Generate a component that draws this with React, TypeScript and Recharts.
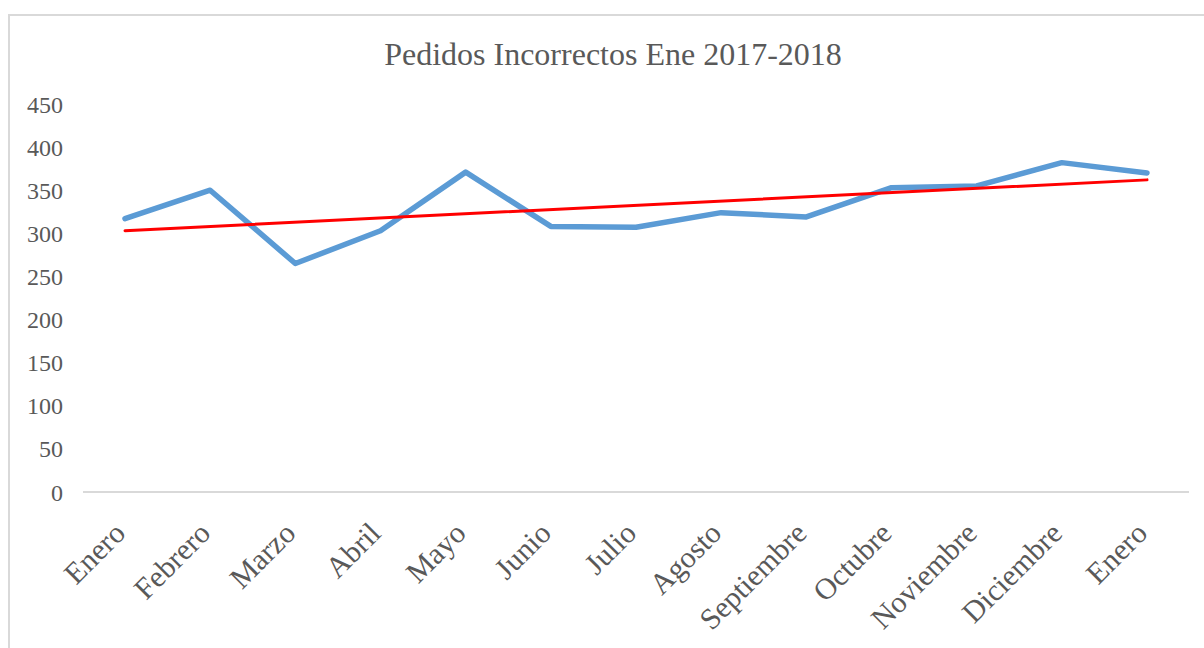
import React from "react";
import { LineChart, Line, XAxis, YAxis } from "recharts";

const months = [
  "Enero",
  "Febrero",
  "Marzo",
  "Abril",
  "Mayo",
  "Junio",
  "Julio",
  "Agosto",
  "Septiembre",
  "Octubre",
  "Noviembre",
  "Diciembre",
  "Enero",
];
const pedidos = [317, 350, 265, 303, 371, 308, 307, 324, 319, 353, 355, 382, 370];
// linear trend, only the two ends are stored; the line joins them
const trendStart = 303;
const trendEnd = 362;
const yTicks = [0, 50, 100, 150, 200, 250, 300, 350, 400, 450];

const data = months.map((m, i) => ({
  key: `${m}-${i}`,
  mes: m,
  pedidos: pedidos[i],
  tendencia: i === 0 ? trendStart : i === months.length - 1 ? trendEnd : null,
}));

const FONT = '"Liberation Serif", "Times New Roman", serif';
const GREY = "#595959";

function MonthTick({ x, y, payload }: any) {
  const label = data[payload.index]?.mes ?? payload.value;
  const ax = x + 2;
  const ay = y + 35;
  return (
    <text
      x={ax}
      y={ay}
      transform={`rotate(-45, ${ax}, ${ay})`}
      textAnchor="end"
      fontFamily={FONT}
      fontSize={30}
      fill={GREY}
    >
      {label}
    </text>
  );
}

export default function App() {
  return (
    <div
      style={{
        position: "fixed",
        left: 0,
        top: 0,
        width: 1204,
        height: 648,
        overflow: "hidden",
        background: "#fff",
      }}
    >
      <div
        style={{
          position: "absolute",
          left: 8,
          top: 14,
          width: 1230,
          height: 680,
          border: "2px solid #d9d9d9",
          boxSizing: "border-box",
        }}
      />
      <div
        style={{
          position: "absolute",
          left: 0,
          top: 0,
          width: 1204,
          textAlign: "center",
          paddingLeft: 22,
          boxSizing: "border-box",
          fontFamily: FONT,
          fontSize: 32,
          color: GREY,
          lineHeight: "1",
          paddingTop: 38,
        }}
      >
        Pedidos Incorrectos Ene 2017-2018
      </div>
      <div style={{ position: "absolute", left: 0, top: 0 }}>
        <LineChart
          width={1204}
          height={648}
          data={data}
          margin={{ top: 104, right: 15, bottom: 0, left: 0 }}
        >
          <XAxis
            dataKey="key"
            height={156}
            tickLine={false}
            axisLine={{ stroke: "#d9d9d9", strokeWidth: 2 }}
            tick={<MonthTick />}
            interval={0}
            padding={{ left: 42, right: 42 }}
          />
          <YAxis
            width={83}
            domain={[0, 450]}
            ticks={yTicks}
            tickLine={false}
            axisLine={false}
            tickSize={0}
            tickMargin={20}
            tick={{ fontFamily: FONT, fontSize: 24, fill: GREY }}
          />
          <Line
            dataKey="pedidos"
            stroke="#5b9bd5"
            strokeWidth={5.5}
            strokeLinecap="round"
            strokeLinejoin="round"
            dot={false}
            activeDot={false}
            isAnimationActive={false}
          />
          <Line
            dataKey="tendencia"
            stroke="#ff0000"
            strokeWidth={3}
            strokeLinecap="round"
            dot={false}
            activeDot={false}
            connectNulls
            isAnimationActive={false}
          />
        </LineChart>
      </div>
    </div>
  );
}
